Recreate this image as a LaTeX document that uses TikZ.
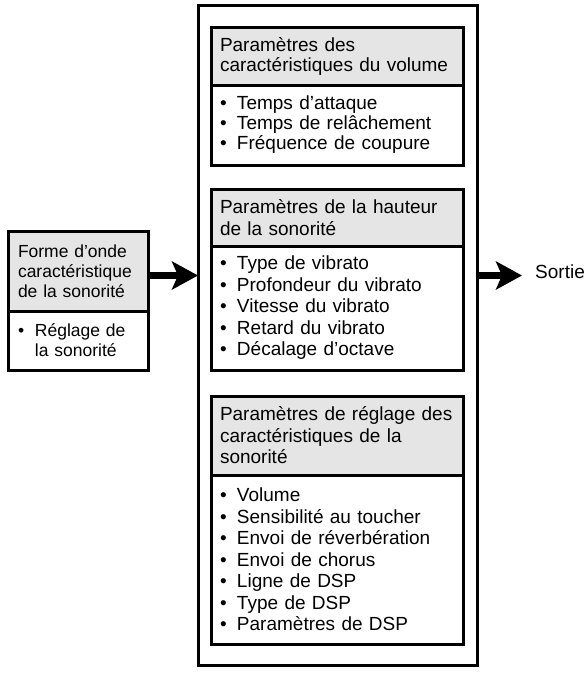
\documentclass[tikz,border=0pt]{standalone}
\usepackage{fontspec}
\setmainfont{Liberation Sans}
\usetikzlibrary{arrows.meta}
\usetikzlibrary{positioning}
\definecolor{headgray}{gray}{0.9}
\newcommand\puce{\makebox[17pt][l]{\textbullet}}
\newcommand\mainsize{\fontsize{19pt}{21.5pt}\selectfont}
\newcommand\tightsize{\fontsize{19pt}{20pt}\selectfont}
\newcommand\smallsize{\fontsize{17.5pt}{20pt}\selectfont}
\tikzset {
  panel/.style = {
    draw = black,
    line width = 3pt,
    outer sep = 0pt,
    rectangle,
    align = left
  },
  % grey title strip of a group
  grouphead/.style = {
    panel,
    fill = headgray,
    font = \mainsize,
    inner xsep = 9pt,
    text width = 234pt
  },
  % list of the settings of a group
  grouplist/.style = {
    panel,
    font = \mainsize,
    inner xsep = 9pt,
    text width = 234pt
  },
  sourcehead/.style = {
    grouphead,
    font = \smallsize,
    inner xsep = 10pt,
    text width = 120pt
  },
  sourcelist/.style = {
    grouplist,
    font = \smallsize,
    inner xsep = 10pt,
    text width = 120pt
  },
  fatarrow/.style = {
    draw = black,
    line width = 7pt,
    -{Stealth[length = 26pt, width = 28pt, inset = 6pt]}
  },
  node distance = 24pt
}
\begin{document}
\begin{tikzpicture}[x = 1pt, y = -1pt]
    \useasboundingbox (0,0) rectangle (587,673);
    \node[panel, minimum width = 279pt, minimum height = 660pt] (outer) at (337.5,335) {};

    \node[grouphead, font = \tightsize, minimum height = 58pt, anchor = north west] (volHead) at (211,27) {Paramètres des\\caractéristiques du volume};
    \node[grouplist, font = \tightsize, minimum height = 80pt] (volList) [below = 0pt of volHead] {\puce Temps d’attaque\\\puce Temps de relâchement\\\puce Fréquence de coupure};
    \node[grouphead, minimum height = 57pt] (pitchHead) [below = of volList] {Paramètres de la hauteur\\de la sonorité};
    \node[grouplist, minimum height = 124pt] (pitchList) [below = 0pt of pitchHead] {\puce Type de vibrato\\\puce Profondeur du vibrato\\\puce Vitesse du vibrato\\\puce Retard du vibrato\\\puce Décalage d’octave};
    \node[grouphead, minimum height = 79pt] (toneHead) [below = 26pt of pitchList] {Paramètres de réglage des\\caractéristiques de la\\sonorité};
    \node[grouplist, minimum height = 169pt] (toneList) [below = 0pt of toneHead] {\puce Volume\\\puce Sensibilité au toucher\\\puce Envoi de réverbération\\\puce Envoi de chorus\\\puce Ligne de DSP\\\puce Type de DSP\\\puce Paramètres de DSP};

    \node[sourcehead, minimum height = 80pt, anchor = north west] (waveHead) at (8,231) {Forme d’onde\\caractéristique\\de la sonorité};
    \node[sourcelist, minimum height = 59pt] (waveList) [below = 0pt of waveHead] {\puce Réglage de\\\hspace*{17pt}la sonorité};

    \node[font = \mainsize, inner xsep = 13pt, anchor = mid west] (out) at (522,275.5) {Sortie};

    \draw[fatarrow] (waveHead.east |- out.mid west) -- (outer.west |- out.mid west);
    \draw[fatarrow] (outer.east |- out.mid west) -- (out.mid west);
  \end{tikzpicture}
\end{document}
